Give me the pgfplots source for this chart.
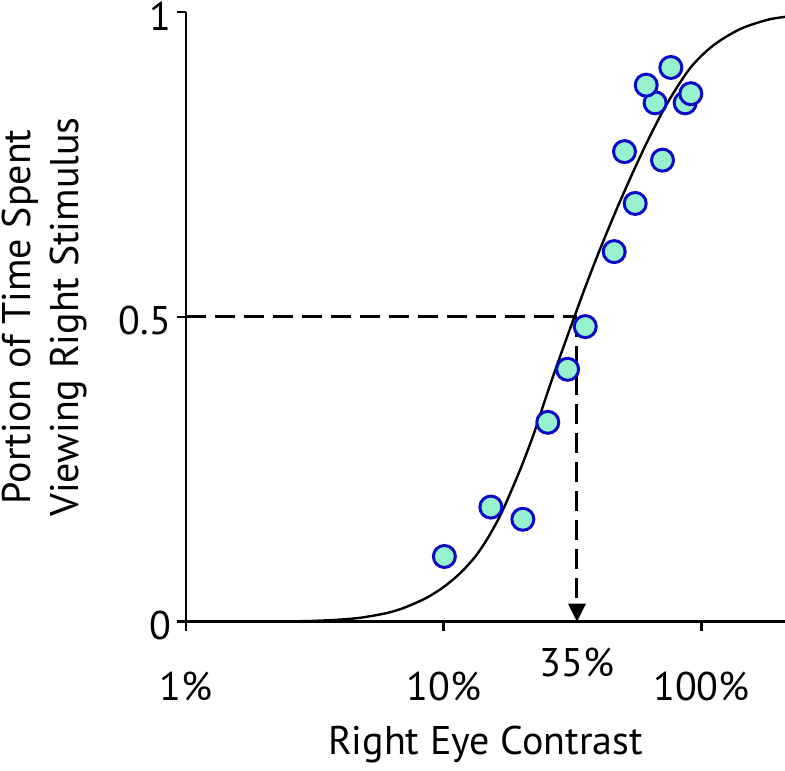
\documentclass[border=0pt]{standalone}
\usepackage{pgfplots}
\pgfplotsset{compat=1.18}
\usepackage{fontspec}
\setmainfont{PT Sans}
\usetikzlibrary{arrows.meta}
\definecolor{mint}{RGB}{150,242,204}
\definecolor{ringblue}{RGB}{12,12,200}
\newcommand{\bigfont}{\fontsize{40}{48}\selectfont}
\begin{document}
\begin{tikzpicture}
\begin{axis}[
  scale only axis, width=599pt, height=609.7pt,
  xmode=log, xmin=1, xmax=211, ymin=0, ymax=1,
  axis lines*=left,
  axis line style={line width=2.6pt, black},
  clip=false,
  /pgf/number format/assume math mode=true,
  xtick={1,10,100}, xticklabels={1\%,10\%,100\%},
  xminorticks=false,
  extra x ticks={32.9}, extra x tick labels={\raisebox{15pt}{35\%}},
  extra x tick style={major tick length=0pt},
  ytick={0,0.5,1}, yticklabels={0,0.5,1},
  tick align=outside,
  major tick length=9pt,
  tick style={line width=2.6pt, black},
  tick label style={font=\bigfont},
  label style={font=\bigfont},
  x tick label style={anchor=base, yshift=-70pt, inner sep=0pt},
  y tick label style={anchor=east, inner sep=0pt, xshift=-6pt, yshift=-4pt},
  xlabel={Right Eye Contrast},
  ylabel={Portion of Time Spent\\Viewing Right Stimulus},
  xlabel style={at={(axis description cs:0.5,0)}, anchor=base, yshift=-133pt, inner sep=0pt},
  ylabel style={at={(axis description cs:0,0.5)}, anchor=south, yshift=99pt, inner sep=0pt, align=center},
]
\addplot[only marks, mark=*, mark size=11pt,
  mark options={fill=mint, draw=ringblue, line width=3pt}] coordinates {
  (10.06,0.107) (15.24,0.188) (20.28,0.168) (25.34,0.327) (30.25,0.414)
  (35.42,0.484) (45.87,0.607) (50.29,0.771) (55.34,0.686) (70.63,0.757)
  (66.13,0.851) (61.06,0.880) (76.09,0.909) (86.47,0.851) (90.98,0.866)
};
\addplot[black, line width=2.4pt, smooth] table {
x y
1 0
1.78 0.0002
2.78 0.0008
3.33 0.0018
3.98 0.0035
4.75 0.0065
5.84 0.013
6.61 0.019
7.43 0.027
8.65 0.040
10.0 0.057
11.61 0.080
13.27 0.107
14.77 0.136
16.15 0.165
17.34 0.192
19.83 0.250
22.27 0.306
24.79 0.365
27.10 0.413
30.17 0.468
32.98 0.513
35.74 0.553
40.50 0.612
46.71 0.675
52.91 0.727
61.58 0.787
73.63 0.850
90.41 0.908
111.0 0.945
141.3 0.972
179.8 0.987
211.1 0.992
};
\addplot[black, line width=3pt, dash pattern=on 20pt off 9pt] coordinates {(1,0.5) (32.9,0.5)};
\addplot[black, line width=3pt, dash pattern=on 20pt off 9pt,
  -{Triangle[length=18pt,width=17pt]}] coordinates {(32.9,0.5) (32.9,0)};
\end{axis}
\pgfresetboundingbox
\path (-186pt,-149.3pt) rectangle (599pt,621.7pt);
\end{tikzpicture}
\end{document}
